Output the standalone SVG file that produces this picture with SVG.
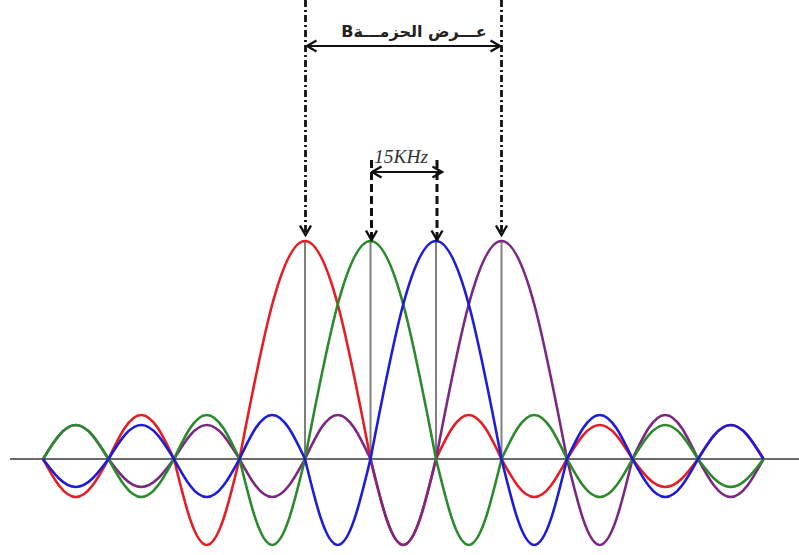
<svg xmlns="http://www.w3.org/2000/svg" width="799" height="555" viewBox="0 0 799 555">
<style>
.crv{fill:none;stroke-width:2.6;stroke-linejoin:round}
.pk{stroke:#808080;stroke-width:2;fill:none}
.dd{stroke:#111;stroke-width:2.8;stroke-dasharray:7 3 2 3;fill:none}
.ds{stroke:#111;stroke-width:3;stroke-dasharray:8 4;fill:none}
.hl{stroke:#111;stroke-width:2;fill:none}
</style>
<defs>
<marker id="ah" viewBox="0 0 14 14" refX="12.5" refY="7" markerWidth="14" markerHeight="14" markerUnits="userSpaceOnUse" orient="auto-start-reverse">
<path d="M3,1.5 L12.5,7 L3,12.5" fill="none" stroke="#111" stroke-width="2.4" stroke-dasharray="none"/>
</marker>
</defs>
<rect width="799" height="555" fill="#fff"/>
<g id="axis"><line x1="10" y1="459" x2="799" y2="459" stroke="#6a6a6a" stroke-width="2"/></g>
<g id="peaks">
<line class="pk" x1="305" y1="241" x2="305" y2="459"/>
<line class="pk" x1="370.5" y1="241" x2="370.5" y2="459"/>
<line class="pk" x1="436" y1="241" x2="436" y2="459"/>
<line class="pk" x1="501.5" y1="241" x2="501.5" y2="459"/>
</g>
<g id="curves">
<path id="red" class="crv" stroke="#e31e24" d="M43,459
c10.95,19.95 20.85,38 32.75,38 c11.9,0 21.8,-18.05 32.75,-38
c10.95,-23.1 20.85,-44 32.75,-44 c11.9,0 21.8,20.9 32.75,44
c10.95,45.16 20.85,86 32.75,86 c11.9,0 21.8,-40.84 32.75,-86
c21.9,-114.47 41.7,-218 65.5,-218 c23.8,0 43.6,103.53 65.5,218
c10.95,45.16 20.85,86 32.75,86 c11.9,0 21.8,-40.84 32.75,-86
c10.95,-23.1 20.85,-44 32.75,-44 c11.9,0 21.8,20.9 32.75,44
c10.95,19.95 20.85,38 32.75,38 c11.9,0 21.8,-18.05 32.75,-38
c10.95,-17.85 20.85,-34 32.75,-34 c11.9,0 21.8,16.15 32.75,34
c10.95,14.7 20.85,28 32.75,28 c11.9,0 21.8,-13.3 32.75,-28
c10.95,-17.85 20.85,-34 32.75,-34 c11.9,0 21.8,16.15 32.75,34"/>
<path id="purple" class="crv" stroke="#7b2882" d="M43,459
c10.95,-17.85 20.85,-34 32.75,-34 c11.9,0 21.8,16.15 32.75,34
c10.95,14.7 20.85,28 32.75,28 c11.9,0 21.8,-13.3 32.75,-28
c10.95,-17.85 20.85,-34 32.75,-34 c11.9,0 21.8,16.15 32.75,34
c10.95,19.95 20.85,38 32.75,38 c11.9,0 21.8,-18.05 32.75,-38
c10.95,-23.1 20.85,-44 32.75,-44 c11.9,0 21.8,20.9 32.75,44
c10.95,45.16 20.85,86 32.75,86 c11.9,0 21.8,-40.84 32.75,-86
c21.9,-114.47 41.7,-218 65.5,-218 c23.8,0 43.6,103.53 65.5,218
c10.95,45.16 20.85,86 32.75,86 c11.9,0 21.8,-40.84 32.75,-86
c10.95,-23.1 20.85,-44 32.75,-44 c11.9,0 21.8,20.9 32.75,44
c10.95,19.95 20.85,38 32.75,38 c11.9,0 21.8,-18.05 32.75,-38"/>
<path id="green" class="crv" stroke="#2b8a2b" d="M43,459
c10.95,-17.85 20.85,-34 32.75,-34 c11.9,0 21.8,16.15 32.75,34
c10.95,19.95 20.85,38 32.75,38 c11.9,0 21.8,-18.05 32.75,-38
c10.95,-23.1 20.85,-44 32.75,-44 c11.9,0 21.8,20.9 32.75,44
c10.95,45.16 20.85,86 32.75,86 c11.9,0 21.8,-40.84 32.75,-86
c21.9,-114.47 41.7,-218 65.5,-218 c23.8,0 43.6,103.53 65.5,218
c10.95,45.16 20.85,86 32.75,86 c11.9,0 21.8,-40.84 32.75,-86
c10.95,-23.1 20.85,-44 32.75,-44 c11.9,0 21.8,20.9 32.75,44
c10.95,19.95 20.85,38 32.75,38 c11.9,0 21.8,-18.05 32.75,-38
c10.95,-17.85 20.85,-34 32.75,-34 c11.9,0 21.8,16.15 32.75,34
c10.95,14.7 20.85,28 32.75,28 c11.9,0 21.8,-13.3 32.75,-28"/>
<path id="blue" class="crv" stroke="#1d1dd6" d="M43,459
c10.95,14.7 20.85,28 32.75,28 c11.9,0 21.8,-13.3 32.75,-28
c10.95,-17.85 20.85,-34 32.75,-34 c11.9,0 21.8,16.15 32.75,34
c10.95,19.95 20.85,38 32.75,38 c11.9,0 21.8,-18.05 32.75,-38
c10.95,-23.1 20.85,-44 32.75,-44 c11.9,0 21.8,20.9 32.75,44
c10.95,45.16 20.85,86 32.75,86 c11.9,0 21.8,-40.84 32.75,-86
c21.9,-114.47 41.7,-218 65.5,-218 c23.8,0 43.6,103.53 65.5,218
c10.95,45.16 20.85,86 32.75,86 c11.9,0 21.8,-40.84 32.75,-86
c10.95,-23.1 20.85,-44 32.75,-44 c11.9,0 21.8,20.9 32.75,44
c10.95,19.95 20.85,38 32.75,38 c11.9,0 21.8,-18.05 32.75,-38
c10.95,-17.85 20.85,-34 32.75,-34 c11.9,0 21.8,16.15 32.75,34"/>
</g>
<g id="connectors">
<line class="dd" x1="305.5" y1="0" x2="305.5" y2="235" marker-end="url(#ah)"/>
<line class="dd" x1="501.5" y1="0" x2="501.5" y2="235" marker-end="url(#ah)"/>
<line class="hl" x1="307" y1="46" x2="500" y2="46" marker-start="url(#ah)" marker-end="url(#ah)"/>
<line class="ds" x1="371.5" y1="160" x2="371.5" y2="240" marker-end="url(#ah)"/>
<line class="ds" x1="437" y1="160" x2="437" y2="240" marker-end="url(#ah)"/>
<line class="hl" x1="372" y1="172" x2="442" y2="172" marker-start="url(#ah)" marker-end="url(#ah)"/>
</g>
<g id="labels">
<text id="bw" x="414" y="37" text-anchor="middle" direction="rtl" font-family="'DejaVu Sans', sans-serif" font-weight="bold" font-size="16" fill="#222">عـــرض الحزمـــةB</text>
<text id="sp" x="374" y="163" font-family="'Liberation Serif', serif" font-style="italic" font-size="19.5" fill="#333">15KHz</text>
</g>
</svg>
